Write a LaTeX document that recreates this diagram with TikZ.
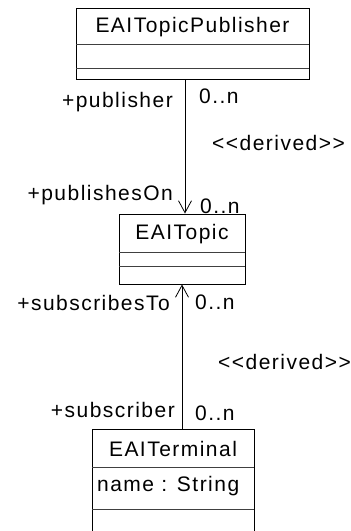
\documentclass[tikz,border=0pt]{standalone}
\usepackage{fontspec}
\setmainfont{Liberation Sans}[LetterSpace=7]
\usetikzlibrary{arrows.meta}
\tikzset{
  box/.style={draw=black, line width=0.9pt, fill=white, inner sep=0pt},
  divider/.style={draw=black!75, line width=0.7pt},
  lbl/.style={inner sep=0pt, font=\fontsize{21}{23}\selectfont},
  assoc/.style={draw=black, line width=0.8pt},
  navarrow/.style={assoc, -{Straight Barb[length=12pt, width=13pt, line width=0.8pt]}},
}
\begin{document}
\begin{tikzpicture}[x=1pt, y=-1pt]
\useasboundingbox (0,0) rectangle (351,531);
\clip (0,0) rectangle (351,531);
% EAITopicPublisher
\node[box, minimum width=233pt, minimum height=71pt] (pub) at (192.5,43.5) {};
\draw[divider] (76,44) -- (309,44);
\draw[divider] (76,68) -- (309,68);
\node[lbl] (pubname) at (192.5,27) {EAITopicPublisher};
% EAITopic
\node[box, minimum width=126pt, minimum height=70pt] (topic) at (182,249) {};
\draw[divider] (119,252) -- (245,252);
\draw[divider] (119,266) -- (245,266);
\node[lbl] (topicname) at (182,234) {EAITopic};
% EAITerminal
\node[box, minimum width=162pt, minimum height=121pt] (term) at (173,489.5) {};
\draw[divider] (92,467) -- (254,467);
\draw[divider] (92,509) -- (254,509);
\node[lbl] (termname) at (173,449) {EAITerminal};
\node[lbl, anchor=west] (termattr) at (97,486) {name : String};
% connectors
\draw[navarrow] ([xshift=-7.5pt]pub.south) -- ([xshift=3pt]topic.north);
\draw[navarrow] ([xshift=9pt]term.north) -- (topic.south);
% labels
\node[lbl, anchor=east] (l1) at (173,102) {+publisher};
\node[lbl, anchor=west] (m1) at (199,96) {0..n};
\node[lbl, anchor=west] (d1) at (212,143) {{<}{<}derived{>}{>}};
\node[lbl, anchor=east] (l2) at (173,195) {+publishesOn};
\node[lbl, anchor=west] (m2) at (200,206) {0..n};
\node[lbl, anchor=east] (l3) at (170,303) {+subscribesTo};
\node[lbl, anchor=west] (m3) at (195,302) {0..n};
\node[lbl, anchor=west] (d2) at (218,362) {{<}{<}derived{>}{>}};
\node[lbl, anchor=east] (l4) at (175,410) {+subscriber};
\node[lbl, anchor=west] (m4) at (195,413) {0..n};
\end{tikzpicture}
\end{document}
